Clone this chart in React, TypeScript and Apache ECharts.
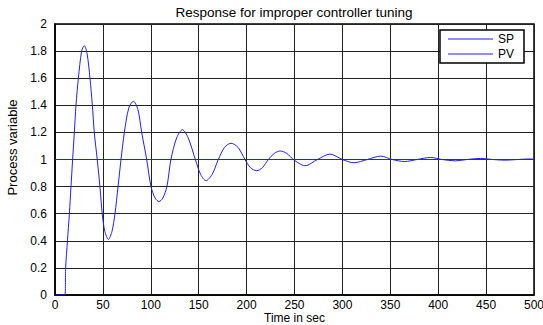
import React, { useEffect, useRef } from "react";
import * as echarts from "echarts";

const titleText = "Response for improper controller tuning";
const xName = "Time in sec";
const yName = "Process variable";
const seriesNames = ["SP", "PV"];

// set point
const spTime = [0, 500];
const spValue = [1, 1];

// process variable
const pvTime = [
  0, 10.4, 11.1, 13, 15, 16.7, 18.4, 20.2, 21.9, 24.4, 27.8, 30.5, 33.5, 36.5, 39, 41, 44.1, 46.9, 49.3,
  52, 55.8, 59.5, 62.6, 65.8, 68.9, 72.4, 77, 81.8, 86.5, 90.5, 95.7, 100.2, 104.5, 108.5, 112.5,
  116.8, 121, 127, 133, 139, 146.5, 152, 157.6, 164, 170.5, 177, 183.7, 191, 198.3, 204, 210.5,
  216.5, 222.7, 229, 235, 242, 248.8, 261, 274, 287, 300, 312,
  326, 340, 352, 365, 378, 392, 404, 418, 430, 444, 457, 470, 483, 496, 500,
];
const pvValue = [
  0, 0, 0.2, 0.4, 0.6, 0.8, 1.0, 1.2, 1.4, 1.6, 1.8, 1.84, 1.78, 1.6, 1.4, 1.2, 1.0, 0.8, 0.6,
  0.47, 0.41, 0.47, 0.6, 0.8, 1.0, 1.2, 1.38, 1.43, 1.37, 1.2, 1.0, 0.8, 0.715, 0.69, 0.715,
  0.8, 1.0, 1.16, 1.22, 1.16, 1.0, 0.89, 0.844, 0.89, 1.0, 1.09, 1.12, 1.09, 1.0, 0.94, 0.917,
  0.94, 1.0, 1.045, 1.063, 1.045, 1.0, 0.954, 1.0, 1.04, 1.0, 0.976,
  1.0, 1.025, 1.0, 0.985, 1.0, 1.015, 1.0, 0.99, 1.0, 1.008, 1.0, 0.995, 1.0, 1.004, 1.002,
];

const font = "'Liberation Sans', Arial, sans-serif";
const lineColor = "#1f1fff";

export default function App() {
  const ref = useRef<HTMLDivElement>(null);
  useEffect(() => {
    if (!ref.current) return;
    const chart = echarts.init(ref.current, null, { renderer: "svg" });
    const sp = spTime.map((t, i) => [t, spValue[i]]);
    const pv = pvTime.map((t, i) => [t, pvValue[i]]);
    chart.setOption({
      animation: false,
      backgroundColor: "#fff",
      textStyle: { fontFamily: font },
      title: {
        text: titleText,
        left: 294,
        textAlign: "center",
        top: 5,
        padding: 0,
        textStyle: { fontSize: 13.5, fontWeight: "normal", color: "#000", fontFamily: font },
      },
      legend: {
        orient: "vertical",
        right: 19,
        top: 30,
        padding: [3, 10, 3, 8],
        itemGap: 3,
        itemWidth: 45,
        itemHeight: 1,
        icon: "rect",
        borderColor: "#000",
        borderWidth: 1.5,
        backgroundColor: "#fff",
        borderRadius: 0,
        textStyle: { fontSize: 12, color: "#000", fontFamily: font },
        data: seriesNames,
      },
      grid: {
        left: 55,
        right: 9,
        top: 24,
        bottom: 30,
        containLabel: false,
        outerBoundsMode: "none",
        show: true,
        borderColor: "#000",
        borderWidth: 1.5,
        backgroundColor: "#fff",
      },
      xAxis: {
        type: "value",
        min: 0,
        max: 500,
        interval: 50,
        name: xName,
        nameLocation: "middle",
        nameGap: 17,
        nameMoveOverlap: false,
        nameTextStyle: { fontSize: 12, lineHeight: 12, color: "#000", fontFamily: font },
        axisLine: { show: true, lineStyle: { color: "#000", width: 1.5 } },
        axisTick: { show: false },
        axisLabel: { fontSize: 12, lineHeight: 12, color: "#000", margin: 4, fontFamily: font },
        splitLine: { show: true, lineStyle: { color: "#222", width: 1 } },
      },
      yAxis: {
        type: "value",
        min: 0,
        max: 2,
        interval: 0.2,
        name: yName,
        nameLocation: "middle",
        nameGap: 35,
        nameTextStyle: { fontSize: 13, color: "#000", fontFamily: font, padding: [0, 0, 0, 24] },
        axisLine: { show: true, lineStyle: { color: "#000", width: 1.5 } },
        axisTick: { show: false },
        axisLabel: {
          fontSize: 12,
          color: "#000",
          margin: 8,
          fontFamily: font,
          formatter: (v: number) => String(+v.toFixed(1)),
        },
        splitLine: { show: true, lineStyle: { color: "#222", width: 1 } },
      },
      series: [
        {
          name: seriesNames[0],
          type: "line",
          data: sp,
          symbol: "none",
          lineStyle: { color: lineColor, width: 1 },
          itemStyle: { color: lineColor },
        },
        {
          name: seriesNames[1],
          type: "line",
          data: pv,
          symbol: "none",
          smooth: 0.3,
          lineStyle: { color: lineColor, width: 1 },
          itemStyle: { color: lineColor },
        },
      ],
    });
    return () => chart.dispose();
  }, []);
  return (
    <div
      ref={ref}
      style={{ position: "fixed", left: 0, top: 0, width: 543, height: 325, background: "#fff" }}
    />
  );
}
